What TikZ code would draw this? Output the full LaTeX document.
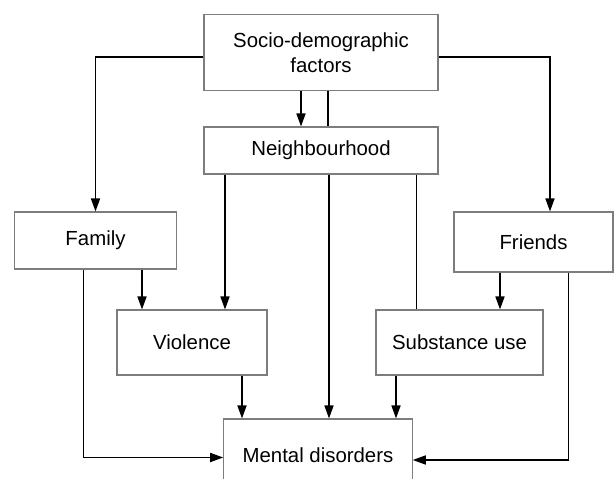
\documentclass[tikz,border=0pt]{standalone}
\usepackage{fontspec}
\setmainfont{Liberation Sans}
\usepackage{tikz}
\usetikzlibrary{arrows.meta,positioning,calc}
\definecolor{boxgray}{RGB}{125,125,125}
\tikzset{
  factorbox/.style={rectangle, draw=boxgray, line width=0.6pt, fill=white,
                    align=center, inner sep=2pt},
  flow/.style     ={-{Triangle[length=2.6mm,width=1.8mm]}, line width=0.9pt, draw=black},
  link/.style     ={-, line width=0.9pt, draw=black}
}
\begin{document}
\begin{tikzpicture}[x=0.02cm, y=-0.02cm, font=\fontsize{11.6}{14.2}\selectfont]
\useasboundingbox (0,0) rectangle (615,479);

% Boxes (pixel grid of the reference, y downwards)
\node[factorbox, minimum width=4.68cm, minimum height=1.53cm] (socio) at (321,52.3) {Socio-demographic\\factors};
\node[factorbox, minimum width=4.68cm, minimum height=0.94cm] (neigh) at (321,150.5) {Neighbourhood};
\node[factorbox, minimum width=3.24cm, minimum height=1.14cm] (family) at (95.5,240.5) {Family};
\node[factorbox, minimum width=3.18cm, minimum height=1.2cm] (friends) at (533.5,242) {Friends};
\node[factorbox, minimum width=3.0cm, minimum height=1.3cm] (viol) at (192,342.5) {Violence};
\node[factorbox, minimum width=3.34cm, minimum height=1.3cm] (subst) at (459.5,342.5) {Substance use};
\node[factorbox, minimum width=3.77cm, minimum height=1.44cm] (mental) at (318,455) {Mental disorders};

% Socio-demographic factors
\draw[flow] ([yshift=-0.09cm]socio.west) -| (family.north);
\draw[flow] ([yshift=-0.09cm]socio.east) -| ([xshift=0.33cm]friends.north);
\draw[flow] ([xshift=-0.4cm]socio.south) -- ([xshift=-0.4cm]neigh.north);
\draw[link] ([xshift=0.14cm]socio.south) -- ([xshift=0.14cm]neigh.north);

% Neighbourhood
\draw[flow] ([xshift=0.66cm]viol.north |- neigh.south) -- ([xshift=0.66cm]viol.north);
\draw[flow] ([xshift=0.16cm]neigh.south) -- ([xshift=0.16cm]neigh.south |- mental.north);
\draw[link] ([xshift=-0.86cm]subst.north |- neigh.south) -- ([xshift=-0.86cm]subst.north);

% Family and friends
\draw[flow] ([xshift=-1.0cm]viol.north |- family.south) -- ([xshift=-1.0cm]viol.north);
\draw[flow] ([xshift=-0.24cm]family.south) |- ([yshift=-0.05cm]mental.west);
\draw[flow] ([xshift=0.81cm]subst.north |- friends.south) -- ([xshift=0.81cm]subst.north);
\draw[flow] ([xshift=0.7cm]friends.south) |- ([yshift=-0.1cm]mental.east);

% Into mental disorders
\draw[flow] ([xshift=1.0cm]viol.south) -- ([xshift=1.0cm]viol.south |- mental.north);
\draw[flow] ([xshift=-1.27cm]subst.south) -- ([xshift=-1.27cm]subst.south |- mental.north);
\end{tikzpicture}
\end{document}
